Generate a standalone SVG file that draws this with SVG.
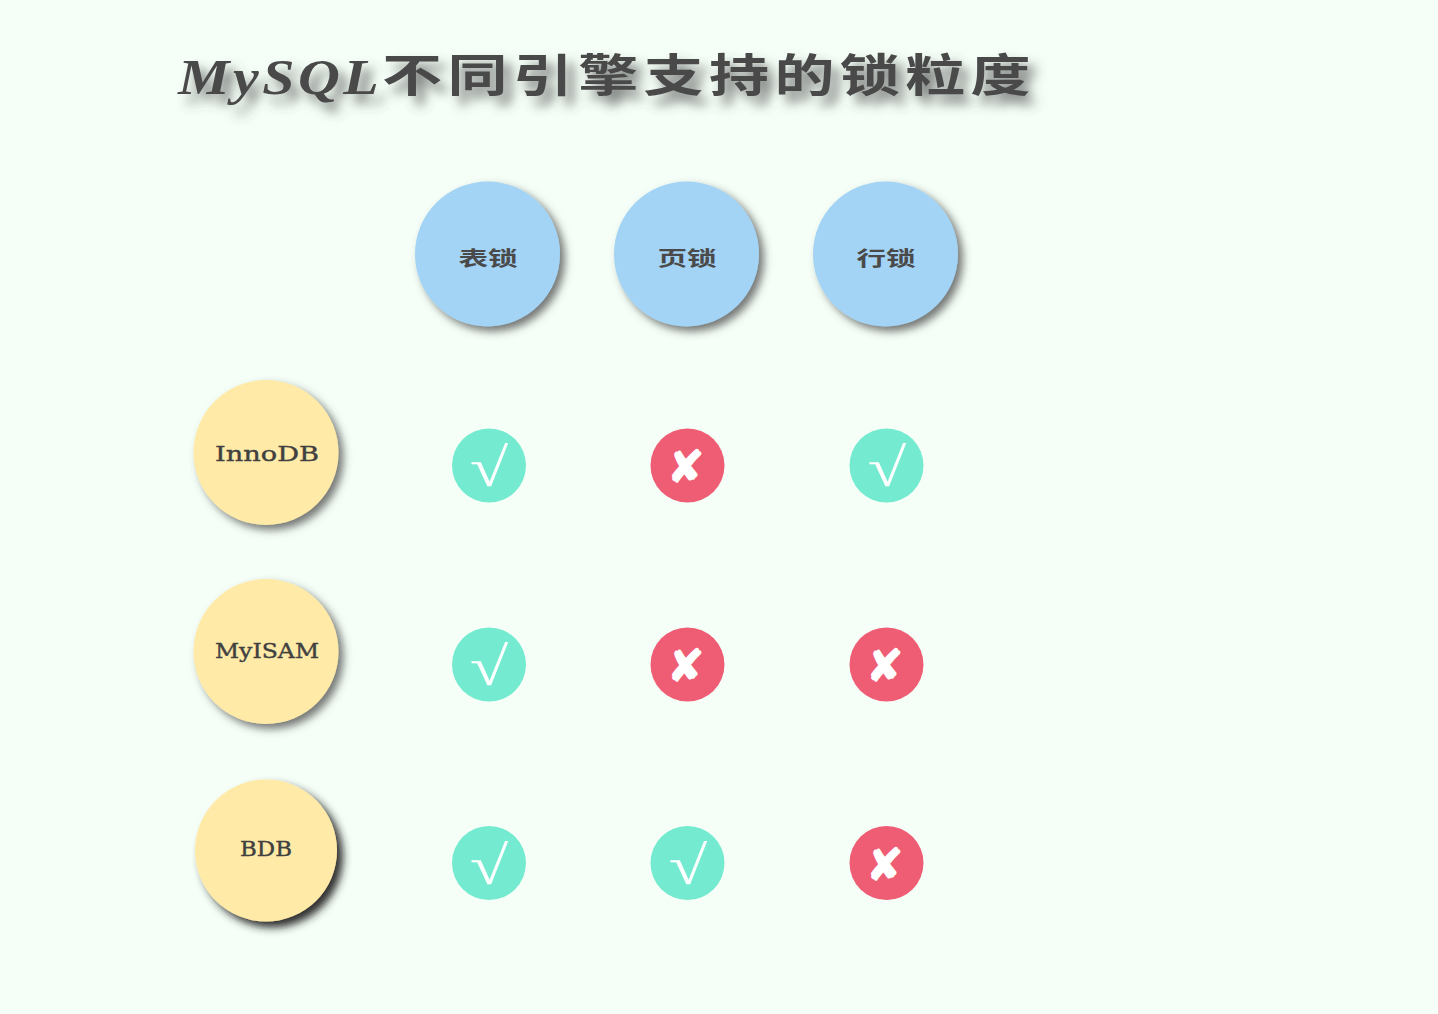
<svg xmlns="http://www.w3.org/2000/svg" width="1438" height="1014" viewBox="0 0 1438 1014">
<defs>
<style>
.title{font-family:"Noto Sans CJK SC","Noto Sans",sans-serif;font-weight:700;font-size:50px;fill:#4a4a4a}
.latin{font-family:"Liberation Serif",serif;font-style:italic;font-weight:700;font-size:50px;fill:#4a4a4a}
.cjk{font-family:"Noto Sans CJK SC",sans-serif;font-weight:700;font-size:20px;fill:#4a4a4a;text-anchor:middle}
.eng{font-family:"DejaVu Serif",serif;font-size:21px;fill:#404040;stroke:#404040;stroke-width:.4;text-anchor:middle}
.blue{fill:#a3d4f5;filter:url(#s1)}
.yellow{fill:#ffeaa7;filter:url(#s1)}
.dark{fill:#ffeaa7;filter:url(#s2)}
.ok{fill:#74ebd0}
.no{fill:#ef5d75}
.tick{font-family:"Liberation Serif",serif;font-size:54px;fill:#fff;text-anchor:middle}
.cross{font-family:"DejaVu Sans",sans-serif;font-size:44px;font-weight:700;fill:#fff;stroke:#fff;stroke-width:1.6;text-anchor:middle}
</style>
<filter id="s1" x="-20%" y="-20%" width="150%" height="150%"><feDropShadow dx="5" dy="5" stdDeviation="4.5" flood-color="#4a4a4a" flood-opacity="0.75"/></filter>
<filter id="s2" x="-20%" y="-20%" width="150%" height="150%"><feDropShadow dx="6" dy="6" stdDeviation="4.5" flood-color="#222" flood-opacity="0.95"/></filter>
<filter id="st" x="-5%" y="-40%" width="110%" height="200%"><feDropShadow dx="8" dy="9" stdDeviation="6" flood-color="#4a4a4a" flood-opacity="0.75"/></filter>
</defs>
<rect width="1438" height="1014" fill="#f5fff7"/>
<g id="title" filter="url(#st)">
<text class="latin" transform="translate(178 94) scale(1.16 1)" letter-spacing="3">MySQL</text>
<g transform="translate(382 92) scale(1.2 0.9)"><text class="title" x="0 54.5 109 163.5 218 272.5 327 381.5 436 490.5" y="0">不同引擎支持的锁粒度</text></g>
</g>
<g id="head-table"><circle class="blue" cx="487.5" cy="254" r="72.5"/><text class="cjk" transform="translate(488 266) scale(1.48 1)">表锁</text></g>
<g id="head-page"><circle class="blue" cx="686.5" cy="254" r="72.5"/><text class="cjk" transform="translate(687 266) scale(1.48 1)">页锁</text></g>
<g id="head-row"><circle class="blue" cx="885.5" cy="254" r="72.5"/><text class="cjk" transform="translate(886 266) scale(1.48 1)">行锁</text></g>
<g id="engine-innodb"><circle class="yellow" cx="266" cy="452.5" r="72.5"/><text class="eng" x="267" y="461" textLength="104" lengthAdjust="spacingAndGlyphs">InnoDB</text></g>
<g id="engine-myisam"><circle class="yellow" cx="266" cy="651.5" r="72.5"/><text class="eng" x="267" y="658" textLength="104" lengthAdjust="spacingAndGlyphs">MyISAM</text></g>
<g id="engine-bdb"><circle class="dark" cx="266" cy="850.5" r="71"/><text class="eng" x="266" y="856" textLength="52" lengthAdjust="spacingAndGlyphs">BDB</text></g>
<g id="c11"><circle class="ok" cx="489" cy="465.5" r="37"/><text class="tick" transform="translate(489 486) scale(1.3 1)">√</text></g>
<g id="c12"><circle class="no" cx="687.5" cy="465.5" r="37"/><text class="cross" x="686" y="482">✘</text></g>
<g id="c13"><circle class="ok" cx="886.5" cy="465.5" r="37"/><text class="tick" transform="translate(887 486) scale(1.3 1)">√</text></g>
<g id="c21"><circle class="ok" cx="489" cy="664.5" r="37"/><text class="tick" transform="translate(489 685) scale(1.3 1)">√</text></g>
<g id="c22"><circle class="no" cx="687.5" cy="664.5" r="37"/><text class="cross" x="686" y="681">✘</text></g>
<g id="c23"><circle class="no" cx="886.5" cy="664.5" r="37"/><text class="cross" x="885" y="681">✘</text></g>
<g id="c31"><circle class="ok" cx="489" cy="863" r="37"/><text class="tick" transform="translate(489 884) scale(1.3 1)">√</text></g>
<g id="c32"><circle class="ok" cx="687.5" cy="863" r="37"/><text class="tick" transform="translate(688 884) scale(1.3 1)">√</text></g>
<g id="c33"><circle class="no" cx="886.5" cy="863" r="37"/><text class="cross" x="885" y="880">✘</text></g>
</svg>
